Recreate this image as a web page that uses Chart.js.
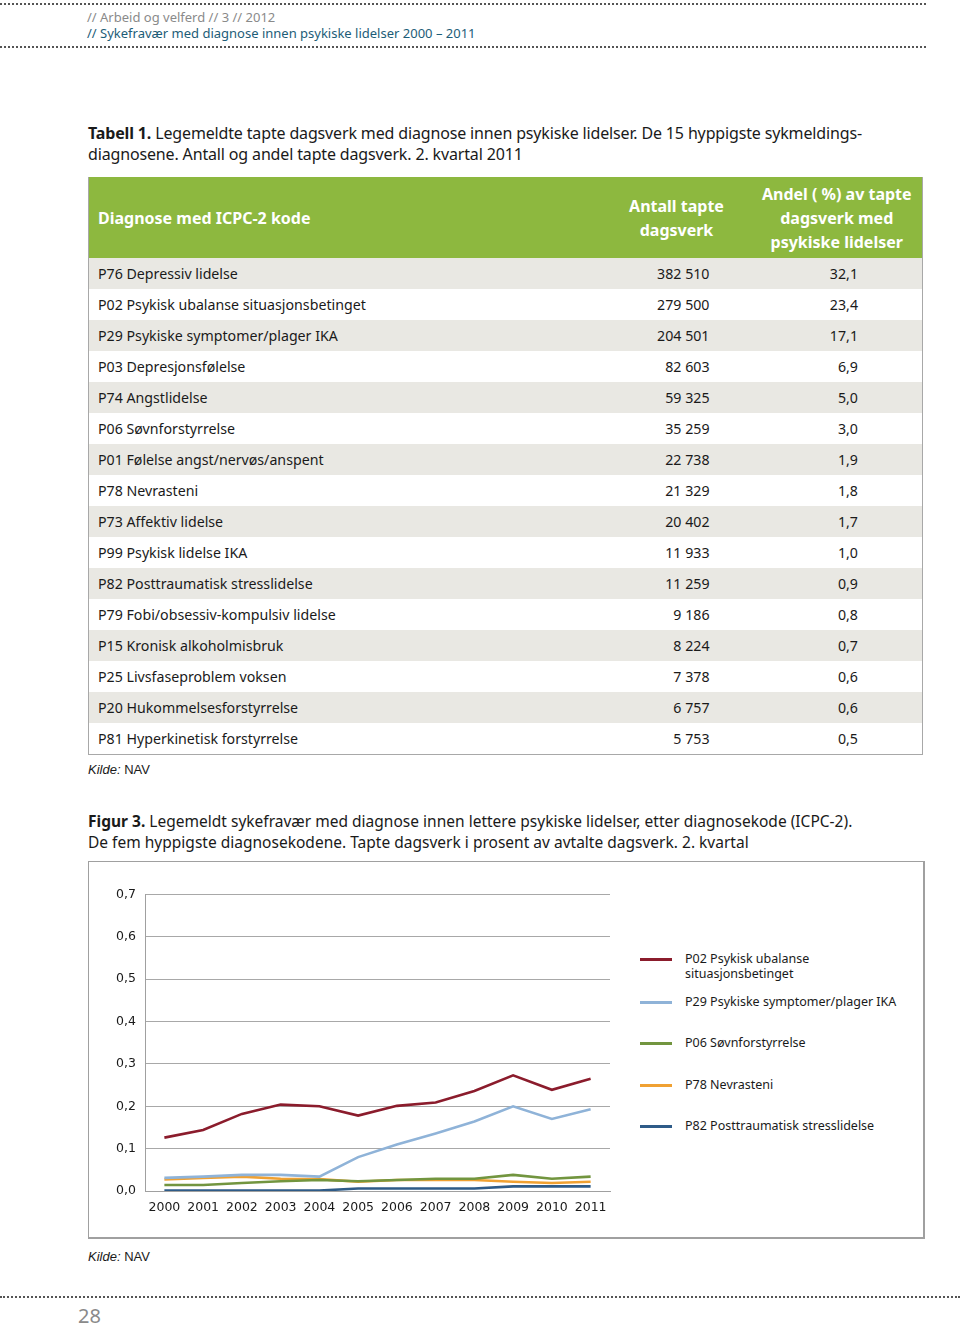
<!DOCTYPE html>
<html lang="no">
<head>
    <meta charset="UTF-8">
    <title>Sykefravær med diagnose innen psykiske lidelser</title>
    <script src="https://cdn.jsdelivr.net/npm/chart.js"></script>
    <style>
        body {
            margin: 0;
            width: 960px;
            height: 1330px;
            position: relative;
            background: #fff;
            font-family: "Noto Sans", sans-serif;
            color: #1a1a1a;
            overflow: hidden;
        }
        .dots {
            position: absolute;
            left: 0;
            width: 926px;
            border-top: 2px dotted #555;
        }
        .runhead {
            position: absolute;
            left: 87px;
            font-size: 13px;
            line-height: 15px;
            white-space: nowrap;
        }
        .caption {
            position: absolute;
            left: 88px;
            font-size: 16px;
            line-height: 21px;
            white-space: nowrap;
            transform-origin: left top;
        }
        table {
            position: absolute;
            left: 88px;
            top: 177px;
            width: 834px;
            table-layout: fixed;
            border-collapse: collapse;
            border: 1px solid #a8a8a8;
            border-top: none;
            font-size: 14.2px;
        }
        th {
            background: #8db83f;
            color: #fff;
            font-size: 16px;
            font-weight: bold;
            line-height: 24px;
            height: 81px;
            padding: 0;
        }
        td {
            height: 31px;
            padding: 0;
        }
        tr:nth-child(odd) td { background: #e9e8e3; }
        .c1 { text-align: left; padding-left: 9px; }
        .c2 { text-align: right; padding-right: 42px; }
        .c3 { text-align: right; padding-right: 64px; }
        th.c2, th.c3 { text-align: center; padding-right: 0; }
        .kilde {
            position: absolute;
            left: 88px;
            font-family: "Liberation Sans", Arial, sans-serif;
            font-size: 13px;
        }
        .box {
            position: absolute;
            left: 88px;
            top: 861px;
            width: 834px;
            height: 375px;
            border: 2px solid #a0a0a0;
            border-left-width: 1px;
            border-top-width: 1px;
        }
        #chartWrap {
            position: absolute;
            left: 100px;
            top: 878px;
            width: 520px;
            height: 345px;
        }
        #legend {
            position: absolute;
            left: 640px;
            top: 951px;
            font-size: 12.5px;
            line-height: 15px;
        }
        .item {
            position: absolute;
            left: 0;
            width: 280px;
        }
        .swatch {
            position: absolute;
            left: 0;
            top: 7px;
            width: 32px;
            height: 3px;
        }
        .label { position: absolute; left: 45px; top: 0; white-space: nowrap; }
    </style>
</head>
<body>
    <div class="dots" style="top:3px"></div>
    <div class="runhead" style="top:10px;color:#8a8a8a">// Arbeid og velferd // 3 // 2012</div>
    <div class="runhead" style="top:26px;color:#1d5d78">// Sykefravær med diagnose innen psykiske lidelser 2000 – 2011</div>
    <div class="dots" style="top:46px"></div>

    <div class="caption" style="top:123px;letter-spacing:-0.15px"><b>Tabell 1.</b> Legemeldte tapte dagsverk med diagnose innen psykiske lidelser. De 15 hyppigste sykmeldings-<br>diagnosene. Antall og andel tapte dagsverk. 2. kvartal 2011</div>

    <table id="tbl">
        <colgroup>
            <col style="width:513px">
            <col style="width:150px">
            <col style="width:171px">
        </colgroup>
        <thead>
            <tr>
                <th class="c1">Diagnose med ICPC-2 kode</th>
                <th class="c2">Antall tapte<br>dagsverk</th>
                <th class="c3">Andel ( %) av tapte<br>dagsverk med<br>psykiske lidelser</th>
            </tr>
        </thead>
        <tbody></tbody>
    </table>
    <div class="kilde" style="top:762px"><i>Kilde:</i> NAV</div>

    <div class="caption" style="top:811px;transform:scaleX(0.97)"><b>Figur 3.</b> Legemeldt sykefravær med diagnose innen lettere psykiske lidelser, etter diagnosekode (ICPC-2).<br>De fem hyppigste diagnosekodene. Tapte dagsverk i prosent av avtalte dagsverk. 2. kvartal</div>

    <div class="box"></div>
    <div id="chartWrap"><canvas id="chartCanvas"></canvas></div>
    <div id="legend"></div>
    <div class="kilde" style="top:1249px"><i>Kilde:</i> NAV</div>

    <div class="dots" style="top:1296px;width:960px"></div>
    <div style="position:absolute;left:78px;top:1305px;font-size:20px;line-height:22px;color:#8a8a8a">28</div>

    <script>
        // Tabell 1
        const diagnoses = [
            'P76 Depressiv lidelse', 'P02 Psykisk ubalanse situasjonsbetinget', 'P29 Psykiske symptomer/plager IKA',
            'P03 Depresjonsfølelse', 'P74 Angstlidelse', 'P06 Søvnforstyrrelse', 'P01 Følelse angst/nervøs/anspent',
            'P78 Nevrasteni', 'P73 Affektiv lidelse', 'P99 Psykisk lidelse IKA', 'P82 Posttraumatisk stresslidelse',
            'P79 Fobi/obsessiv-kompulsiv lidelse', 'P15 Kronisk alkoholmisbruk', 'P25 Livsfaseproblem voksen',
            'P20 Hukommelsesforstyrrelse', 'P81 Hyperkinetisk forstyrrelse'
        ];
        const lostDays = [382510, 279500, 204501, 82603, 59325, 35259, 22738, 21329, 20402, 11933, 11259, 9186, 8224, 7378, 6757, 5753];
        const sharePct = [32.1, 23.4, 17.1, 6.9, 5.0, 3.0, 1.9, 1.8, 1.7, 1.0, 0.9, 0.8, 0.7, 0.6, 0.6, 0.5];

        // Figur 3
        const years = ['2000', '2001', '2002', '2003', '2004', '2005', '2006', '2007', '2008', '2009', '2010', '2011'];
        const p02 = [0.126, 0.144, 0.182, 0.204, 0.200, 0.178, 0.201, 0.209, 0.236, 0.273, 0.239, 0.265];
        const p29 = [0.031, 0.034, 0.038, 0.038, 0.034, 0.080, 0.110, 0.136, 0.164, 0.200, 0.170, 0.193];
        const p06 = [0.014, 0.014, 0.019, 0.023, 0.026, 0.023, 0.026, 0.029, 0.029, 0.038, 0.029, 0.034];
        const p78 = [0.027, 0.031, 0.034, 0.029, 0.028, 0.022, 0.026, 0.026, 0.026, 0.022, 0.019, 0.022];
        const p82 = [0.001, 0.001, 0.001, 0.001, 0.001, 0.006, 0.006, 0.006, 0.006, 0.011, 0.011, 0.011];
        const seriesNames = [
            'P02 Psykisk ubalanse situasjonsbetinget', 'P29 Psykiske symptomer/plager IKA',
            'P06 Søvnforstyrrelse', 'P78 Nevrasteni', 'P82 Posttraumatisk stresslidelse'
        ];

        const fmtInt = n => String(n).replace(/\B(?=(\d{3})+(?!\d))/g, ' ');
        const fmtDec = n => n.toFixed(1).replace('.', ',');

        const tbody = document.querySelector('#tbl tbody');
        diagnoses.forEach((d, i) => {
            const tr = document.createElement('tr');
            tr.innerHTML = '<td class="c1">' + d + '</td><td class="c2">' + fmtInt(lostDays[i]) +
                '</td><td class="c3">' + fmtDec(sharePct[i]) + '</td>';
            tbody.appendChild(tr);
        });

        const colors = ['#8b1c2c', '#8fb3d8', '#72953f', '#f0a132', '#2e5b88'];
        const values = [p02, p29, p06, p78, p82];
        const datasets = values.map((v, i) => ({
            label: seriesNames[i],
            data: v,
            borderColor: colors[i],
            backgroundColor: colors[i],
            borderWidth: 2.6,
            pointRadius: 0,
            tension: 0,
            order: i
        }));

        // legend (the long first name breaks over two lines like in the report)
        const legendTops = [0, 43, 84, 126, 167];
        const legendText = [
            'P02 Psykisk ubalanse<br>situasjonsbetinget', seriesNames[1], seriesNames[2], seriesNames[3], seriesNames[4]
        ];
        const legend = document.getElementById('legend');
        legendText.forEach((t, i) => {
            const el = document.createElement('div');
            el.className = 'item';
            el.style.top = legendTops[i] + 'px';
            el.innerHTML = '<div class="swatch" style="background:' + colors[i] + '"></div><div class="label">' + t + '</div>';
            legend.appendChild(el);
        });

        new Chart(document.getElementById('chartCanvas'), {
            type: 'line',
            data: { labels: years, datasets: datasets },
            options: {
                responsive: true,
                maintainAspectRatio: false,
                animation: false,
                layout: { padding: { top: 10, right: 10, bottom: 0, left: 0 } },
                plugins: { legend: { display: false }, tooltip: { enabled: false } },
                scales: {
                    x: {
                        offset: true,
                        grid: { display: false, drawTicks: false, offset: true },
                        border: { color: '#a0a0a0', width: 1 },
                        ticks: {
                            color: '#1a1a1a',
                            font: { family: 'DejaVu Sans', size: 12.5 },
                            padding: 9,
                            maxRotation: 0,
                            autoSkip: false
                        },
                        afterFit: s => { s.height = 32; }
                    },
                    y: {
                        min: 0,
                        max: 0.7,
                        ticks: {
                            stepSize: 0.1,
                            color: '#1a1a1a',
                            font: { family: 'DejaVu Sans', size: 12.5 },
                            padding: 9,
                            callback: v => fmtDec(v)
                        },
                        grid: { color: '#a8a8a8', lineWidth: 1, drawTicks: false },
                        border: { color: '#a0a0a0', width: 1 },
                        afterFit: s => { s.width = 45; }
                    }
                }
            }
        });
    </script>
</body>
</html>
